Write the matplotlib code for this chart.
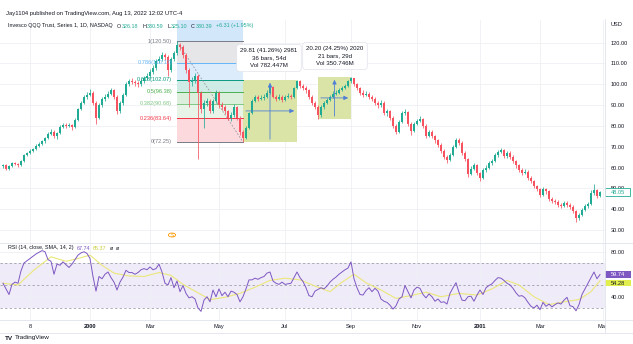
import matplotlib
matplotlib.use("Agg")
import matplotlib.pyplot as plt
from matplotlib.patches import Rectangle, Circle
from matplotlib.lines import Line2D
from matplotlib.transforms import blended_transform_factory

plt.rcParams["font.family"] = ["Liberation Sans", "DejaVu Sans"]

# ---------------- data ----------------
first_open = 60.5
closes = [61.0, 59.5, 60.5, 62.0, 61.5, 61.0, 63.0, 66.0, 67.0, 68.0,
          69.0, 70.5, 71.5, 72.5, 74.0, 76.0, 77.0, 75.0, 76.5, 79.5,
          80.5, 80.0, 80.5, 79.5, 83.0, 88.0, 91.0, 94.0, 95.0, 96.0,
          91.0, 84.0, 90.0, 93.0, 94.0, 95.5, 97.0, 94.0, 87.0, 91.0,
          95.0, 100.0, 101.5, 101.0, 100.5, 100.0, 101.5, 103.0, 104.0, 106.0,
          108.0, 111.0, 112.0, 114.0, 113.0, 107.0, 112.0, 115.0, 119.0, 118.0,
          114.0, 107.0, 101.0, 102.0, 104.0, 96.0, 88.0, 91.0, 92.0, 87.0,
          92.0, 96.0, 90.0, 89.0, 87.0, 84.0, 85.0, 89.0, 84.0, 77.0,
          74.0, 79.0, 86.0, 92.0, 94.0, 93.0, 93.5, 94.0, 96.0, 98.5,
          94.0, 93.0, 94.0, 92.5, 94.0, 94.5, 94.0, 98.0, 101.5, 99.0,
          98.0, 97.0, 94.0, 91.0, 89.0, 85.0, 89.0, 91.0, 92.5, 94.0,
          95.5, 96.0, 97.0, 98.0, 99.0, 101.5, 103.0, 100.0, 98.0, 96.0,
          95.0, 95.5, 94.0, 93.0, 91.0, 90.0, 91.0, 86.0, 87.0, 84.0,
          80.0, 77.0, 82.0, 86.0, 86.5, 81.0, 77.5, 81.0, 82.5, 83.5,
          80.0, 75.0, 77.0, 75.0, 73.0, 71.0, 68.0, 65.0, 63.5, 66.0,
          70.0, 73.0, 72.0, 67.0, 64.0, 57.0, 59.5, 61.0, 57.5, 55.0,
          59.0, 60.0, 62.0, 63.0, 66.0, 67.5, 68.5, 65.5, 67.0, 65.0,
          63.0, 61.0, 59.0, 57.5, 58.0, 55.0, 53.5, 51.0, 49.5, 47.0,
          49.5, 48.5, 45.0, 44.0, 43.5, 42.0, 41.5, 43.0, 42.0, 41.0,
          39.0, 36.0, 37.0, 39.5, 41.5, 42.5, 48.0, 49.0, 46.5, 48.05]
highs = [61.8, 61.5, 61.2, 62.6, 62.8, 62.0, 63.5, 66.5, 67.6, 68.8,
         69.6, 71.2, 72.3, 73.4, 74.8, 77.0, 78.5, 77.8, 77.2, 80.3,
         81.5, 81.2, 81.4, 81.0, 83.8, 88.8, 92.0, 95.0, 96.2, 97.5,
         96.8, 91.8, 90.8, 94.0, 95.2, 96.5, 98.0, 97.6, 94.8, 92.0,
         96.0, 101.0, 102.5, 102.8, 102.0, 101.5, 102.4, 104.0, 105.2, 107.2,
         109.0, 112.2, 113.5, 115.5, 115.0, 113.8, 113.0, 116.0, 120.5, 120.0,
         118.8, 114.8, 108.0, 103.5, 105.5, 105.0, 96.8, 92.5, 93.5, 93.0,
         93.0, 97.0, 96.5, 91.5, 90.0, 87.8, 86.5, 90.5, 89.6, 84.5,
         78.0, 80.0, 86.8, 92.8, 95.0, 95.0, 94.8, 95.2, 97.0, 99.5,
         99.0, 95.0, 95.2, 94.8, 95.0, 95.6, 95.5, 98.8, 102.06, 102.0,
         100.0, 99.0, 97.8, 94.8, 92.0, 89.8, 90.0, 92.0, 93.5, 95.0,
         96.5, 97.2, 98.0, 99.0, 100.0, 102.2, 103.5, 103.2, 100.8, 98.8,
         97.0, 96.8, 96.2, 95.0, 93.8, 92.0, 92.2, 91.8, 88.0, 87.8,
         84.8, 81.0, 83.0, 87.2, 88.0, 87.0, 81.8, 82.0, 83.5, 84.5,
         84.0, 80.8, 78.2, 77.8, 75.8, 73.8, 71.8, 68.8, 65.8, 67.0,
         71.0, 74.2, 74.0, 72.8, 67.8, 64.8, 60.5, 62.0, 61.8, 58.0,
         60.0, 61.0, 63.0, 64.0, 67.0, 68.6, 69.5, 69.0, 68.0, 67.8,
         65.8, 63.8, 61.8, 59.8, 59.2, 58.8, 55.8, 54.2, 51.8, 50.2,
         50.5, 50.2, 49.0, 46.0, 45.0, 44.2, 43.0, 44.0, 43.8, 42.8,
         41.8, 39.5, 38.0, 40.5, 42.5, 43.5, 49.0, 52.0, 49.8, 48.8]
lows = [60.0, 58.8, 59.0, 60.2, 61.0, 60.3, 60.8, 62.8, 65.5, 66.6,
        67.5, 68.6, 70.0, 71.0, 72.0, 73.5, 75.5, 74.0, 73.8, 76.0,
        79.0, 79.0, 79.4, 78.2, 79.0, 82.5, 87.5, 90.4, 93.0, 94.2,
        90.0, 81.0, 83.2, 89.2, 92.0, 93.2, 94.8, 93.0, 85.5, 86.0,
        90.2, 94.5, 99.0, 100.0, 99.2, 98.8, 99.0, 100.8, 102.0, 103.0,
        105.0, 107.0, 110.0, 111.0, 111.5, 104.0, 106.0, 111.0, 114.0, 116.5,
        112.5, 105.5, 89.0, 99.0, 100.5, 64.0, 86.0, 79.0, 89.5, 86.0,
        86.2, 91.0, 88.5, 87.5, 85.8, 83.0, 82.5, 84.2, 83.0, 75.5,
        72.25, 73.5, 78.5, 85.5, 91.5, 92.0, 92.2, 92.5, 93.5, 95.5,
        93.2, 92.0, 92.3, 91.5, 92.0, 93.2, 93.0, 93.5, 97.5, 98.0,
        97.0, 96.0, 93.0, 90.0, 88.0, 83.3, 84.2, 88.2, 90.5, 91.8,
        93.5, 94.8, 95.5, 96.5, 97.5, 98.5, 100.8, 99.0, 97.0, 95.0,
        94.0, 94.2, 93.0, 92.0, 90.0, 88.8, 89.0, 85.0, 84.5, 83.0,
        79.0, 76.0, 76.5, 81.5, 85.0, 80.0, 75.5, 77.0, 80.2, 81.8,
        79.0, 74.0, 74.5, 74.0, 72.0, 70.0, 67.0, 64.0, 62.2, 63.0,
        65.5, 69.5, 71.0, 66.0, 63.0, 55.5, 56.5, 58.8, 56.5, 53.5,
        54.5, 58.0, 59.5, 61.2, 62.5, 65.2, 66.8, 64.5, 64.8, 64.2,
        62.0, 60.0, 58.0, 56.5, 56.8, 54.0, 52.5, 50.0, 48.5, 46.0,
        46.5, 47.5, 44.0, 43.0, 42.5, 41.0, 40.5, 41.0, 41.0, 40.0,
        38.0, 34.0, 35.0, 36.5, 39.0, 40.8, 42.0, 47.0, 45.5, 45.8]

rsi = [52, 47, 42, 51, 53, 52, 63, 70, 72, 74,
       76, 78, 79.5, 81, 80, 73, 71.5, 60, 69, 68,
       71, 68.5, 66, 69, 73, 77, 79, 80, 78.5, 74,
       58, 45, 58, 56, 60, 62, 57, 53, 46, 53,
       57.5, 63.5, 61.5, 61.5, 60, 61.5, 64, 65, 64, 66.5,
       64, 65, 69, 62, 52, 50.5, 57, 48, 54, 44.5,
       50, 43, 39, 40, 38, 30, 27, 37, 40, 35.5,
       46, 40, 47, 41, 44, 40, 45, 44, 42, 35.5,
       40, 47, 55, 55, 56.5, 55.5, 57, 58, 61, 62,
       54, 52, 51, 53, 51, 51.5, 52, 57, 62, 57,
       53.5, 48, 41, 40, 45, 46.5, 48, 47, 49.5, 53,
       55.5, 57.5, 60, 62, 64, 65.5, 71, 56, 48, 42,
       41.5, 45.5, 48, 44.5, 47.5, 45, 38, 36, 35, 32.5,
       29, 32, 38, 40, 50, 44.5, 39, 46, 48.5, 47.5,
       42, 39, 42.5, 40, 36, 38, 35, 35.5, 33.5, 43,
       48, 52.5, 44, 37, 36.5, 40, 40.5, 36, 41.5, 46,
       42, 48, 50, 51.5, 54.5, 57, 56.5, 54.5, 52, 50.5,
       47.5, 43.5, 40.5, 41, 39, 35, 31.5, 30, 32.5, 28.5,
       35, 31.5, 33.5, 31, 33, 34.5, 33.5, 37, 39.5, 32,
       31.2, 27.5, 33, 42, 47, 52, 57, 62, 56, 59.74]

sma_bars = [0, 5, 10, 16, 21, 25, 29, 33, 37, 42, 47, 52, 56, 60, 64, 69,
            74, 79, 84, 89, 94, 99, 104, 109, 113, 117, 121, 126, 131, 136,
            141, 146, 152, 158, 163, 168, 172, 177, 182, 187, 192, 196, 199]
sma_vals = [52, 50.5, 63, 75.5, 71.5, 74, 77, 68, 61, 58.5, 58, 61.5, 59, 51,
            45, 37.5, 39.5, 43, 48.5, 54.5, 56.5, 55, 49.5, 44.5, 53, 60, 52.5,
            46, 38.5, 41, 44, 40, 43, 41.5, 47, 54.5, 50.5, 40, 33, 35.5, 37.5,
            44.5, 54.28]

tick_bars = [9, 29, 49, 72, 94, 116, 138, 159, 179, 200]
tick_labels = ["8", "2000", "Mar", "May", "Jul", "Sep", "Nov", "2001", "Mar", "May"]
price_ticks = [30, 40, 50, 60, 70, 80, 90, 100, 110, 120]
rsi_ticks = [40, 60, 80]

fib_high, fib_low = 120.50, 72.25
fib_start, fib_end = 58, 80
fib_levels = [1, 0.786, 0.618, 0.5, 0.382, 0.236, 0]
fib_line_colors = ["#787b86", "#64b5f6", "#089981", "#4caf50", "#81c784", "#f23645", "#787b86"]
fib_fill_colors = ["#e6e6e8", "#dcecfb", "#cfebe5", "#dcefdc", "#e8f4e8", "#fcd9dc"]

ranges = [
    dict(start=80, end=98, low=72.25, high=102.06, bars="36 bars, 54d", vol="Vol 782.447M"),
    dict(start=105, end=116, low=83.30, high=103.50, bars="21 bars, 29d", vol="Vol 350.746M"),
]

# ---------------- figure ----------------
W, H = 633, 344
fig = plt.figure(figsize=(W / 100, H / 100), dpi=100)
fig.patch.set_facecolor("white")
renderer = fig.canvas.get_renderer()

def fx(px):
    return px / W

def fy(py):
    return 1 - py / H

def text_run(x, y, pieces, fs, z=12):
    """Draw coloured text pieces one after another on a line, in pixel units."""
    for s, col, gap in pieces:
        t = fig.text(fx(x), fy(y), s, fontsize=fs, color=col, va="center",
                     ha="left", zorder=z)
        x += t.get_window_extent(renderer).width + gap

PANE_R = 605
ax = fig.add_axes([0, fy(243), fx(PANE_R), (243 - 20) / H])
ax_r = fig.add_axes([0, fy(320), fx(PANE_R), (320 - 243) / H])

FS = 4.1
TXT = "#131722"
GRID = "#eef0f4"
UP, DN = "#22ab94", "#f7525f"

for a in (ax, ax_r):
    for s in a.spines.values():
        s.set_visible(False)
    a.set_xlim(-1, 200.67)
    a.set_xticks(tick_bars)
    a.grid(True, color=GRID, lw=0.6)
    a.set_axisbelow(True)
    a.yaxis.tick_right()
    a.tick_params(axis="y", length=0, pad=4.0, labelsize=FS, labelcolor=TXT)

ax.set_ylim(23.76, 130.8)
ax.set_yticks(price_ticks)
ax.set_yticklabels([f"{v:.2f}" for v in price_ticks])
ax.tick_params(axis="x", length=0, labelbottom=False)

ax_r.set_ylim(19.33, 87.78)
ax_r.set_yticks(rsi_ticks)
ax_r.set_yticklabels([f"{v:.2f}" for v in rsi_ticks])
ax_r.set_xticklabels(tick_labels)
ax_r.tick_params(axis="x", length=0, pad=3.0, labelsize=FS, labelcolor=TXT)
for lbl in ax_r.get_xticklabels():
    if lbl.get_text() in ("2000", "2001"):
        lbl.set_fontweight("bold")

# ---------------- fibonacci retracement ----------------
span = fib_high - fib_low
fib_prices = [fib_low + lv * span for lv in fib_levels]
ax.add_patch(Rectangle((fib_start, fib_high), fib_end - fib_start, 1.618 * span,
                       fc="#d3e7fa", ec="none", zorder=1))
for k in range(len(fib_levels) - 1):
    ax.add_patch(Rectangle((fib_start, fib_prices[k + 1]), fib_end - fib_start,
                           fib_prices[k] - fib_prices[k + 1],
                           fc=fib_fill_colors[k], ec="none", zorder=1))
for lv, p, col in zip(fib_levels, fib_prices, fib_line_colors):
    ax.plot([fib_start, fib_end], [p, p], color=col, lw=0.7, zorder=2)
    lvl_txt = "0" if lv == 0 else ("1" if lv == 1 else f"{lv:g}")
    ax.text(fib_start - 1.6, p, f"{lvl_txt}({p:.2f})", color=col, fontsize=FS,
            ha="right", va="center", zorder=6)
ax.plot([fib_start, fib_end], [fib_high, fib_low], color="#9598a1", lw=0.6,
        ls=(0, (2, 2)), zorder=2)

# ---------------- date/price ranges ----------------
for r in ranges:
    ax.add_patch(Rectangle((r["start"], r["low"]), r["end"] - r["start"],
                           r["high"] - r["low"], fc="#dbe4a7", ec="none", zorder=1))
    xm = (r["start"] + r["end"]) / 2
    ym = (r["low"] + r["high"]) / 2
    ax.annotate("", xy=(xm, r["high"]), xytext=(xm, r["low"]),
                arrowprops=dict(arrowstyle="-|>,head_length=0.25,head_width=0.12",
                                color="#4f7fd6", lw=0.6), zorder=4)
    ax.annotate("", xy=(r["end"], ym), xytext=(r["start"], ym),
                arrowprops=dict(arrowstyle="-|>,head_length=0.25,head_width=0.12",
                                color="#4f7fd6", lw=0.6), zorder=4)

# ---------------- candles ----------------
opens = [first_open] + closes[:-1]
for i, (o, h, l, c) in enumerate(zip(opens, highs, lows, closes)):
    col = UP if c >= o else DN
    ax.plot([i, i], [l, h], color=col, lw=0.55, zorder=3, solid_capstyle="butt")
    body = max(abs(c - o), 0.35)
    ax.add_patch(Rectangle((i - 0.33, min(o, c)), 0.66, body, fc=col, ec="none", zorder=3))

# range tooltips (drawn above candles)
tip_centers = [(269, 58), (335, 56)]
for r, (cx, cy) in zip(ranges, tip_centers):
    diff = r["high"] - r["low"]
    pct = diff / r["low"] * 100
    txt = f"{diff:.2f} ({pct:.2f}%) {round(diff * 100)}\n{r['bars']}\n{r['vol']}"
    fig.text(fx(cx), fy(cy), txt, ha="center", va="center", fontsize=4.4,
             color=TXT, linespacing=1.6, zorder=20,
             bbox=dict(boxstyle="round,pad=0.6,rounding_size=0.5",
                       fc="white", ec="#e0e3eb", lw=0.5))

# last price label
blend_p = blended_transform_factory(fig.transFigure, ax.transData)
last = closes[-1]
ax.add_patch(Rectangle((fx(605), last - 1.9), fx(25), 3.8, transform=blend_p,
                       fc="white", ec=UP, lw=0.6, clip_on=False, zorder=10))
ax.text(fx(617.5), last, f"{last:.2f}", transform=blend_p, ha="center",
        va="center", fontsize=FS, color=UP, clip_on=False, zorder=11)

# split marker
fig.add_artist(Circle((fx(172), fy(235)), 3.6 / W, transform=fig.transFigure,
                      fc="white", ec="#ff9800", lw=0.6, zorder=5))
fig.text(fx(172), fy(235.2), "S", ha="center", va="center", fontsize=3.4,
         color="#ff9800", zorder=6)

# ---------------- RSI ----------------
ax_r.axhspan(30, 70, color="#efebf8", zorder=0.5, lw=0)
for lvl in (70, 50, 30):
    ax_r.axhline(lvl, color="#9598a1", lw=0.55, ls=(0, (3, 3)), zorder=1)
ax_r.plot(sma_bars, sma_vals, color="#ece77a", lw=0.8, zorder=2)
ax_r.plot(range(len(rsi)), rsi, color="#7e57c2", lw=0.7, zorder=3)

blend_r = blended_transform_factory(fig.transFigure, ax_r.transData)
rsi_last, sma_last = rsi[-1], sma_vals[-1]
ax_r.add_patch(Rectangle((fx(605), rsi_last - 2.8), fx(26), 5.6, transform=blend_r,
                         fc="#7e57c2", ec="none", clip_on=False, zorder=10))
ax_r.text(fx(618), rsi_last, f"{rsi_last:.2f}", transform=blend_r, ha="center",
          va="center", fontsize=FS, color="white", clip_on=False, zorder=11)
ax_r.add_patch(Rectangle((fx(605), rsi_last - 10.4), fx(26), 5.6, transform=blend_r,
                         fc="#e2ee4e", ec="none", clip_on=False, zorder=10))
ax_r.text(fx(618), rsi_last - 7.6, f"{sma_last:.2f}", transform=blend_r, ha="center",
          va="center", fontsize=FS, color=TXT, clip_on=False, zorder=11)

# ---------------- frame lines ----------------
SEP = "#e0e3eb"
fig.add_artist(Line2D([0, 1], [fy(243), fy(243)], color=SEP, lw=0.6, zorder=8))
fig.add_artist(Line2D([0, 1], [fy(320), fy(320)], color=SEP, lw=0.6, zorder=8))
fig.add_artist(Line2D([0, 1], [fy(333), fy(333)], color=SEP, lw=0.6, zorder=8))
fig.add_artist(Line2D([fx(PANE_R), fx(PANE_R)], [fy(333), fy(19)], color=SEP, lw=0.6, zorder=8))
# the time scale stops at the price scale column
fig.add_artist(Rectangle((fx(PANE_R + 0.5), fy(332.5)), fx(27), (332.5 - 321) / H,
                         transform=fig.transFigure, fc="white", ec="none", zorder=9))

# ---------------- texts ----------------
fig.text(fx(6), fy(14), "Jay1104 published on TradingView.com, Aug 13, 2022 12:02 UTC-4",
         fontsize=4.2, color=TXT, va="center", ha="left")
text_run(8, 26, [("Invesco QQQ Trust, Series 1, 1D, NASDAQ", TXT, 4.5),
                 ("O", TXT, 0.4), ("326.18", UP, 4.0),
                 ("H", TXT, 0.4), ("330.59", UP, 4.0),
                 ("L", TXT, 0.4), ("325.10", UP, 4.0),
                 ("C", TXT, 0.4), ("330.39", UP, 3.5),
                 ("+6.31 (+1.95%)", UP, 0)], 3.9)
fig.text(fx(611), fy(25), "USD", fontsize=FS, color=TXT, va="center")

text_run(8, 248, [("RSI (14, close, SMA, 14, 2)", TXT, 3.0),
                  ("67.74", "#7e57c2", 3.0), ("65.37", "#c9cf3a", 3.5),
                  ("ø", TXT, 3.0), ("ø", TXT, 0)], 3.9)

fig.text(fx(5), fy(338), "TV", fontsize=4.6, color=TXT, va="center", fontweight="bold")
fig.text(fx(15), fy(338), "TradingView", fontsize=4.6, color=TXT, va="center")

fig.savefig("out.png", dpi=100, facecolor="white")
